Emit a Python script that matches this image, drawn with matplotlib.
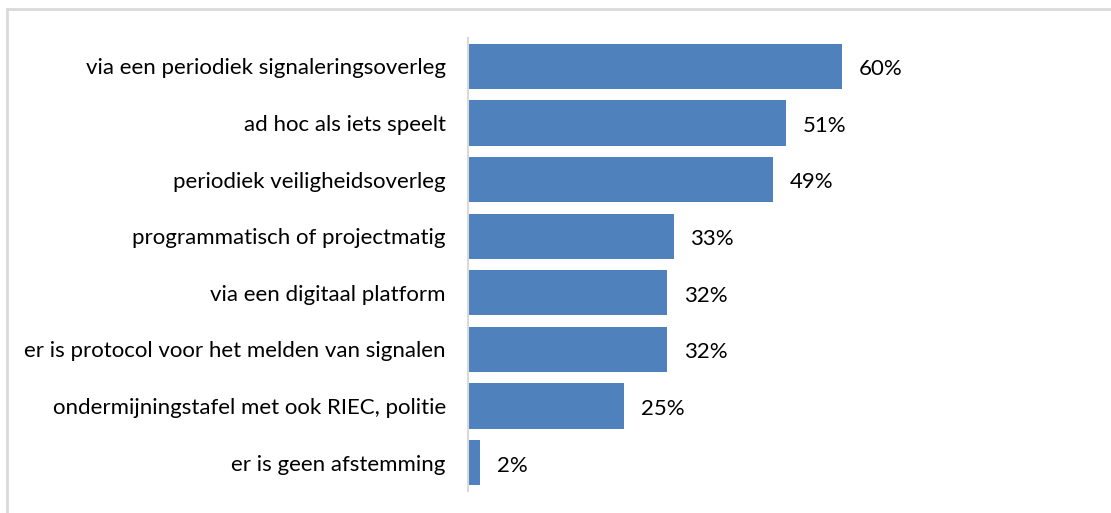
import matplotlib.pyplot as plt
from matplotlib.lines import Line2D

categories = [
    "via een periodiek signaleringsoverleg",
    "ad hoc als iets speelt",
    "periodiek veiligheidsoverleg",
    "programmatisch of projectmatig",
    "via een digitaal platform",
    "er is protocol voor het melden van signalen",
    "ondermijningstafel met ook RIEC, politie",
    "er is geen afstemming",
]
values = [60, 51, 49, 33, 32, 32, 25, 2]
labels = ["60%", "51%", "49%", "33%", "32%", "32%", "25%", "2%"]

plt.rcParams['font.family'] = ['Lato', 'DejaVu Sans']

W, H = 1111, 513
fig = plt.figure(figsize=(W / 100, H / 100), dpi=100)

# frame of the chart area (only top and left edge visible)
fig.add_artist(Line2D([7 / W, 7 / W], [0, 1 - 9 / H], color='#d9d9d9', lw=2, transform=fig.transFigure))
fig.add_artist(Line2D([7 / W, 1], [1 - 9 / H, 1 - 9 / H], color='#d9d9d9', lw=2, transform=fig.transFigure))

ax = fig.add_axes([468 / W, 1 - 491 / H, (1091 - 468) / W, (491 - 38) / H])
pos = list(range(len(categories)))
ax.barh(pos, values, height=0.8, color='#4f81bd')
ax.set_xlim(0, 100)
ax.set_ylim(len(categories) - 0.5, -0.5)

for p, v, lab in zip(pos, values, labels):
    ax.text(v + 2.7, p + 0.05, lab, va='center', ha='left', fontsize=16, color='#000000')

ax.set_yticks(pos)
ax.set_yticklabels(categories, fontsize=16)
ax.tick_params(axis='y', length=0, pad=16)
ax.set_xticks([])
for s in ['top', 'right', 'bottom']:
    ax.spines[s].set_visible(False)
ax.spines['left'].set_color('#d9d9d9')
ax.spines['left'].set_linewidth(1.5)

fig.savefig("out.png", dpi=100)
